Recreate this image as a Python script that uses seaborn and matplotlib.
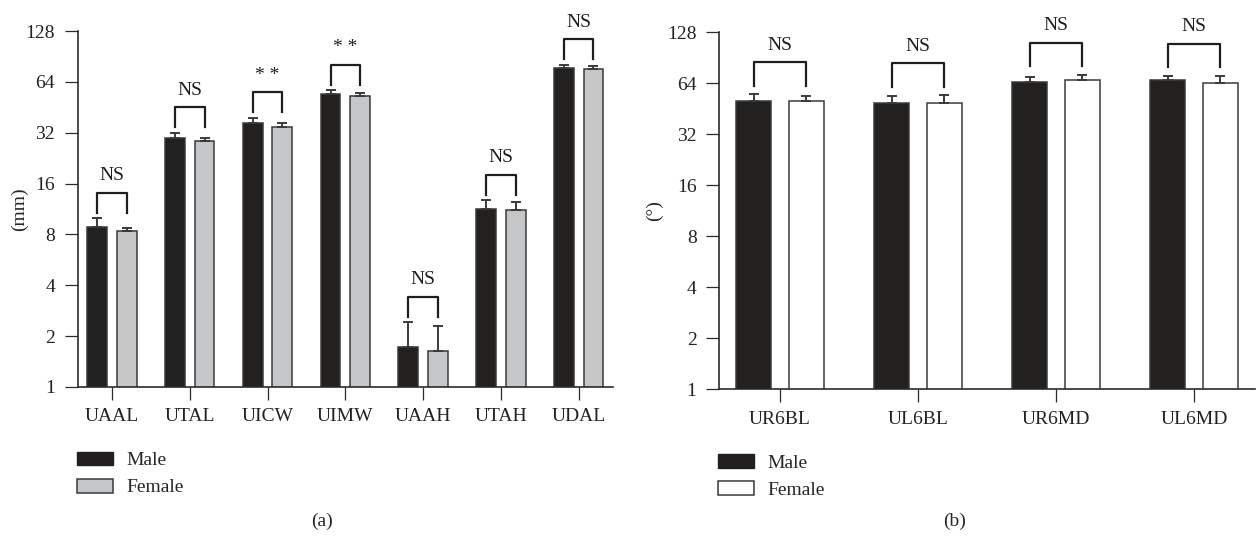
import numpy as np
import pandas as pd
import matplotlib
matplotlib.use("Agg")
import matplotlib.pyplot as plt
import matplotlib.transforms as mtrans
from matplotlib.patches import Patch
import seaborn as sns

# ---- data -------------------------------------------------------------
sexes = ["Male", "Female"]

measures_a = ["UAAL", "UTAL", "UICW", "UIMW", "UAAH", "UTAH", "UDAL"]
male_a = [8.9, 30.0, 36.7, 54.2, 1.73, 11.3, 77.3]
male_sd_a = [1.07, 2.0, 2.6, 2.8, 0.69, 1.45, 3.6]
female_a = [8.35, 28.7, 34.7, 52.6, 1.63, 11.1, 76.2]
female_sd_a = [0.41, 1.2, 1.8, 2.2, 0.66, 1.33, 3.6]
sig_a = ["NS", "NS", "* *", "* *", "NS", "NS", "NS"]

measures_b = ["UR6BL", "UL6BL", "UR6MD", "UL6MD"]
male_b = [50.3, 49.2, 64.9, 67.2]
male_sd_b = [4.8, 4.9, 5.1, 3.5]
female_b = [50.3, 49.2, 66.7, 64.0]
female_sd_b = [3.3, 5.4, 5.2, 6.7]
sig_b = ["NS", "NS", "NS", "NS"]

y_ticks = [1, 2, 4, 8, 16, 32, 64, 128]

# ---- style ------------------------------------------------------------
sns.set_style("ticks")
plt.rcParams["font.family"] = ["Liberation Serif", "DejaVu Serif"]
FS = 14
plt.rcParams["font.size"] = FS
INK = "#2b2b2b"
MALE_C = "#231f20"
EDGE = "#3a3a3a"

fig = plt.figure(figsize=(12.56, 5.36), dpi=100)
ax_a = fig.add_axes([0.0619, 0.278, 0.4261, 0.664])
ax_b = fig.add_axes([0.5727, 0.2737, 0.4263, 0.666])


def long_frame(measures, male, female):
    return pd.DataFrame({
        "measure": measures * 2,
        "sex": ["Male"] * len(measures) + ["Female"] * len(measures),
        "value": list(male) + list(female),
    })


def pixel_rows(ax, y_value, start_px, span_px):
    """x in data units; y 0..1 mapped to a pixel span above a data value."""
    py = ax.transData.transform((0, y_value))[1]
    return mtrans.blended_transform_factory(
        ax.transData,
        mtrans.Affine2D().scale(1, span_px).translate(0, py + start_px))


def panel(ax, measures, male, male_sd, female, female_sd, sig, female_c,
          ylabel, label_x, gap_px, height_px, text_px):
    df = long_frame(measures, male, female)
    sns.barplot(data=df, x="measure", y="value", hue="sex", hue_order=sexes,
                palette=[MALE_C, female_c], width=0.76, gap=0.33,
                errorbar=None, edgecolor=EDGE, linewidth=1.1,
                legend=False, ax=ax)
    ax.set_yscale("log", base=2)
    ax.set_ylim(1, 128)
    ax.set_xlim(-0.44, len(measures) - 1 + 0.44)
    ax.set_yticks(y_ticks)
    ax.set_yticklabels([str(t) for t in y_ticks])
    ax.minorticks_off()
    ax.set_xlabel("")
    ax.set_ylabel(ylabel, fontsize=FS)
    ax.yaxis.set_label_coords(label_x, 0.5)

    for side in ("top", "right"):
        ax.spines[side].set_visible(False)
    for side in ("left", "bottom"):
        ax.spines[side].set_color(INK)
        ax.spines[side].set_linewidth(1.2)
    ax.tick_params(axis="both", direction="out", length=9.4, width=0.9,
                   color=INK, labelsize=FS, labelcolor="#222222")
    ax.tick_params(axis="y", pad=7)
    ax.tick_params(axis="x", pad=6)

    # one-sided SD error bars
    centers, tops = [], []
    for cont, sds in zip(ax.containers, [male_sd, female_sd]):
        xs = [p.get_x() + p.get_width() / 2 for p in cont]
        hs = [p.get_height() for p in cont]
        ax.errorbar(xs, hs, yerr=[np.zeros(len(sds)), sds], fmt="none",
                    ecolor=EDGE, elinewidth=1.4, capsize=3.4,
                    capthick=1.4, zorder=3)
        centers.append(xs)
        tops.append([h + s for h, s in zip(hs, sds)])

    # significance brackets, offset in pixels above the taller error bar
    line_kw = dict(color="#1e1e1e", lw=1.6, clip_on=False,
                   solid_capstyle="projecting")
    for i, label in enumerate(sig):
        x1, x2 = centers[0][i], centers[1][i]
        base = max(tops[0][i], tops[1][i])
        tr = pixel_rows(ax, base, gap_px, height_px)
        ax.plot([x1, x1, x2, x2], [0, 1, 1, 0], transform=tr, **line_kw)
        tr_txt = pixel_rows(ax, base, gap_px + height_px + text_px, 1)
        ax.text((x1 + x2) / 2, 0, label, transform=tr_txt, ha="center",
                va="center", fontsize=FS, color="#1e1e1e", clip_on=False)


panel(ax_a, measures_a, male_a, male_sd_a, female_a, female_sd_a, sig_a,
      "#c5c6c8", "(mm)", -0.0935, 5.5, 20, 17)
panel(ax_b, measures_b, male_b, male_sd_b, female_b, female_sd_b, sig_b,
      "white", "(°)", -0.105, 8.5, 23.5, 17)

# legends
for ax, female_c, anchor in [(ax_a, "#c5c6c8", (0.0611, 0.1575)),
                             (ax_b, "white", (0.5717, 0.1524))]:
    handles = [Patch(facecolor=MALE_C, edgecolor=MALE_C, label="Male"),
               Patch(facecolor=female_c, edgecolor=EDGE, linewidth=1.1,
                     label="Female")]
    ax.legend(handles=handles, loc="upper left", bbox_to_anchor=anchor,
              bbox_transform=fig.transFigure, frameon=False, borderpad=0,
              borderaxespad=0, handlelength=1.85, handleheight=0.72,
              handletextpad=0.68, labelspacing=0.48, fontsize=FS)

fig.text(322 / 1256, 1 - 521 / 536, "(a)", ha="center", va="center",
         fontsize=FS)
fig.text(955 / 1256, 1 - 521 / 536, "(b)", ha="center", va="center",
         fontsize=FS)

fig.savefig("out.png", dpi=100, facecolor="white")
